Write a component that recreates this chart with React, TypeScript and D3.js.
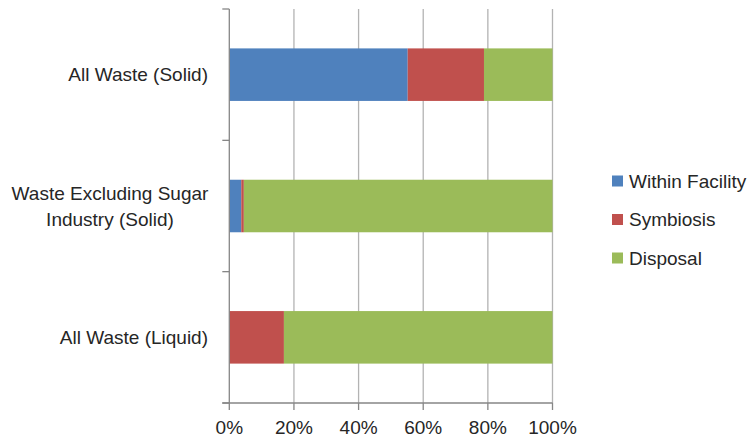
import React from "react";
import * as d3 from "d3";

const categories = ["All Waste (Solid)", "Waste Excluding Sugar Industry (Solid)", "All Waste (Liquid)"];
const categoryLines = [["All Waste (Solid)"], ["Waste Excluding Sugar", "Industry (Solid)"], ["All Waste (Liquid)"]];
const seriesNames = ["Within Facility", "Symbiosis", "Disposal"];
const withinFacility = [55.2, 3.7, 0];
const symbiosis = [23.6, 0.8, 16.9];
const disposal = [21.2, 95.5, 83.1];
const colors = ["#4F81BD", "#C0504D", "#9BBB59"];
const xTicks = [0, 20, 40, 60, 80, 100];

const W = 755, H = 439;
const left = 229.3, right = 552.5, top = 9, bottom = 403;
const FONT = "'Liberation Sans', Arial, sans-serif";
const TXT = "#262626";

export default function App() {
  const x = d3.scaleLinear().domain([0, 100]).range([left, right]);
  const y = d3.scaleBand().domain(categories).range([top, bottom]).paddingInner(0.6).paddingOuter(0.3);
  const yEdges = d3.range(categories.length + 1).map((i) => top + (i * (bottom - top)) / categories.length);
  const rows = categories.map((c, i) => ({ c, within: withinFacility[i], sym: symbiosis[i], disp: disposal[i] }));
  const stack = d3.stack<any>().keys(["within", "sym", "disp"])(rows);

  return (
    <svg width={W} height={H} style={{ position: "absolute", left: 0, top: 0, background: "#fff" }}>
      {xTicks.slice(1).map((t) => (
        <line key={"g" + t} x1={x(t)} x2={x(t)} y1={top} y2={bottom} stroke="#B3B3B3" strokeWidth={1.3} />
      ))}
      {stack.map((s, si) =>
        s.map((d, i) => (
          <rect
            key={si + "-" + i}
            x={x(d[0])}
            width={Math.max(0, x(d[1]) - x(d[0]))}
            y={y(categories[i])}
            height={y.bandwidth()}
            fill={colors[si]}
          />
        ))
      )}
      <line x1={left} x2={left} y1={top} y2={bottom} stroke="#868686" strokeWidth={1.3} />
      <line x1={left - 7} x2={right} y1={bottom} y2={bottom} stroke="#868686" strokeWidth={1.3} />
      {yEdges.map((e, i) => (
        <line key={"yt" + i} x1={left - 7} x2={left} y1={e} y2={e} stroke="#868686" strokeWidth={1.3} />
      ))}
      {xTicks.map((t) => (
        <g key={"xt" + t}>
          <line x1={x(t)} x2={x(t)} y1={bottom} y2={bottom + 7} stroke="#868686" strokeWidth={1.3} />
          <text x={x(t)} y={bottom + 31} textAnchor="middle" fontFamily={FONT} fontSize={19} fill={TXT}>
            {t + "%"}
          </text>
        </g>
      ))}
      {categoryLines.map((lines, i) => {
        const cy = (y(categories[i]) as number) + y.bandwidth() / 2;
        const lh = 26;
        const startY = cy - ((lines.length - 1) * lh) / 2;
        return (
          <g key={"cl" + i}>
            {lines.map((l, li) => (
              <text
                key={li}
                x={lines.length > 1 ? 110 : 208}
                y={startY + li * lh}
                dy="0.35em"
                textAnchor={lines.length > 1 ? "middle" : "end"}
                fontFamily={FONT}
                fontSize={19}
                fill={TXT}
              >
                {l}
              </text>
            ))}
          </g>
        );
      })}
      {seriesNames.map((n, i) => (
        <g key={"lg" + i} transform={`translate(612, ${181 + i * 38.5})`}>
          <rect x={0} y={-5.5} width={11} height={11} fill={colors[i]} />
          <text x={17} y={0} dy="0.35em" fontFamily={FONT} fontSize={19} fill={TXT}>
            {n}
          </text>
        </g>
      ))}
    </svg>
  );
}
